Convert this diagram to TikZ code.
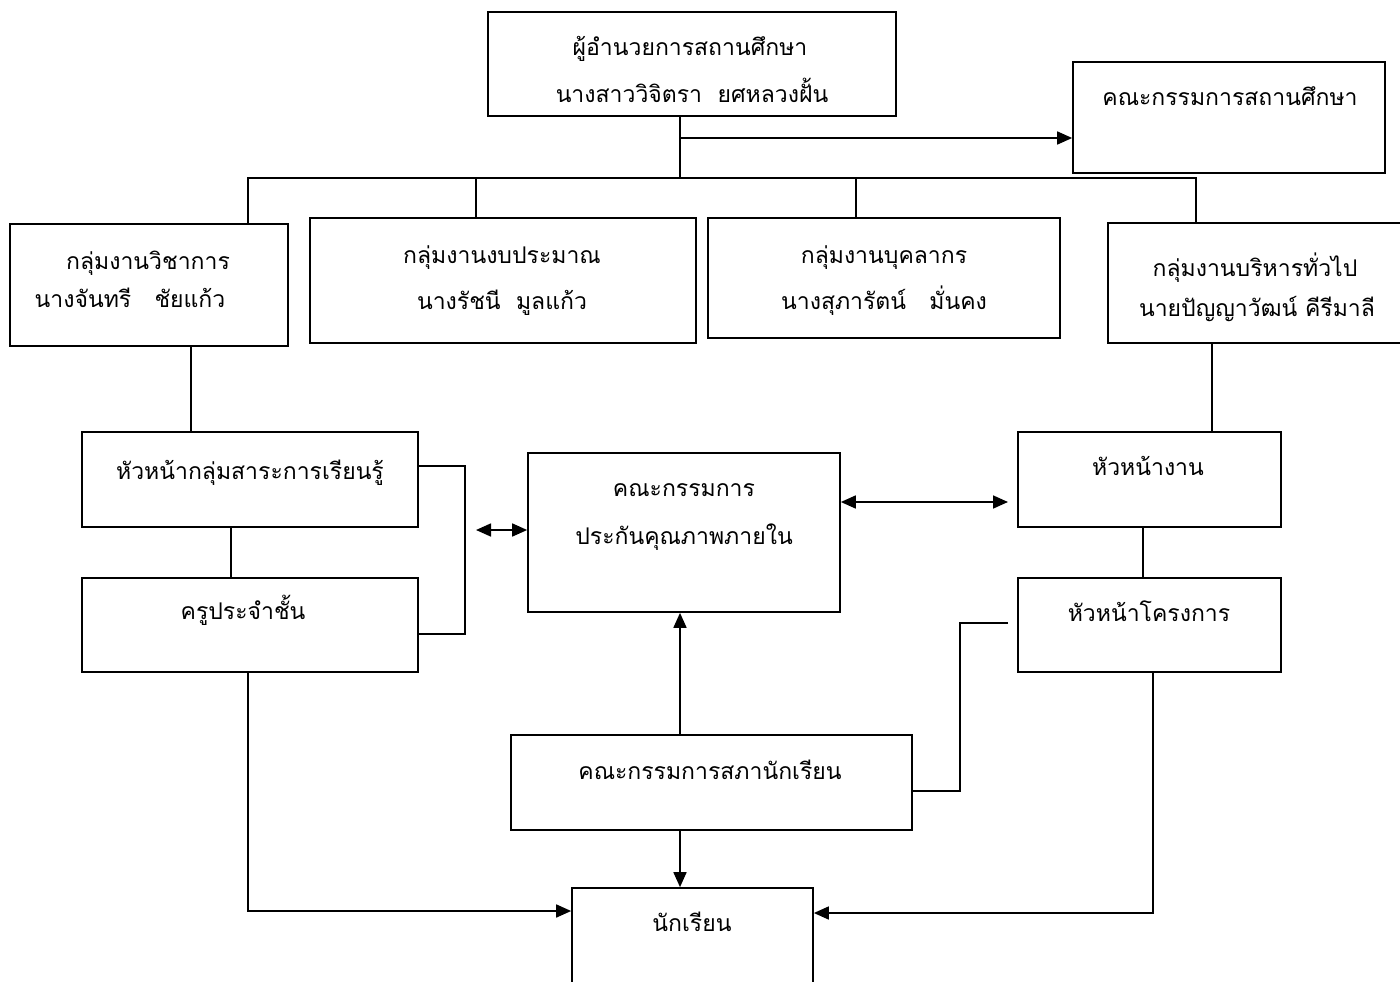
\documentclass[tikz,border=0pt]{standalone}
\usepackage{fontspec}
\setmainfont[Script=Thai]{Loma}
\usetikzlibrary{arrows.meta}
\tikzset{
  box/.style={draw, line width=1.7pt, rectangle, inner sep=0pt},
  txt/.style={anchor=base, inner sep=0pt, font=\fontsize{23}{26}\selectfont},
  wire/.style={line width=1.7pt},
  arr/.style={wire, -{Triangle[length=15pt,width=13pt]}},
  darr/.style={wire, {Triangle[length=15pt,width=13pt]}-{Triangle[length=15pt,width=13pt]}}
}
\begin{document}
\begin{tikzpicture}[x=1pt,y=-1pt]
\useasboundingbox (0,0) rectangle (1400,982);
\clip (0,0) rectangle (1400,982);
\fill[white] (0,0) rectangle (1400,982);
% boxes
\node[box, minimum width=408pt, minimum height=104pt] (dir) at (692,64) {};
\node[box, minimum width=312pt, minimum height=111pt] (com) at (1229,117.5) {};
\node[box, minimum width=278pt, minimum height=122pt] (g1) at (149,285) {};
\node[box, minimum width=386pt, minimum height=125pt] (g2) at (503,280.5) {};
\node[box, minimum width=352pt, minimum height=120pt] (g3) at (884,278) {};
\node[box, minimum width=302pt, minimum height=120pt] (g4) at (1259,283) {};
\node[box, minimum width=336pt, minimum height=95pt] (hk) at (250,479.5) {};
\node[box, minimum width=336pt, minimum height=94pt] (kr) at (250,625) {};
\node[box, minimum width=312pt, minimum height=159pt] (qa) at (684,532.5) {};
\node[box, minimum width=263pt, minimum height=95pt] (hn) at (1149.5,479.5) {};
\node[box, minimum width=263pt, minimum height=94pt] (hp) at (1149.5,625) {};
\node[box, minimum width=401pt, minimum height=95pt] (sc) at (711.5,782.5) {};
\node[box, minimum width=241pt, minimum height=112pt] (st) at (692.5,944) {};
% texts
\node[txt] (t1) at (690,56) {ผู้อำนวยการสถานศึกษา};
\node[txt] (t2) at (692,102) {นางสาววิจิตรา~~ยศหลวงฝั้น};
\node[txt] (t3) at (1230,106) {คณะกรรมการสถานศึกษา};
\node[txt] (t4) at (148,269) {กลุ่มงานวิชาการ};
\node[txt] (t5) at (130,307) {นางจันทรี~~~ชัยแก้ว};
\node[txt] (t6) at (502,263) {กลุ่มงานงบประมาณ};
\node[txt] (t7) at (502,309) {นางรัชนี~~มูลแก้ว};
\node[txt] (t8) at (884,263) {กลุ่มงานบุคลากร};
\node[txt] (t9) at (884,309) {นางสุภารัตน์~~~มั่นคง};
\node[txt] (t10) at (1255,276) {กลุ่มงานบริหารทั่วไป};
\node[txt] (t11) at (1257,316) {นายปัญญาวัฒน์ คีรีมาลี};
\node[txt] (t12) at (250,479) {หัวหน้ากลุ่มสาระการเรียนรู้};
\node[txt] (t13) at (243,619) {ครูประจำชั้น};
\node[txt] (t14) at (684,496) {คณะกรรมการ};
\node[txt] (t15) at (684,544) {ประกันคุณภาพภายใน};
\node[txt] (t16) at (1148,475) {หัวหน้างาน};
\node[txt] (t17) at (1149,621) {หัวหน้าโครงการ};
\node[txt] (t18) at (710,779) {คณะกรรมการสภานักเรียน};
\node[txt] (t19) at (692,931) {นักเรียน};
% coordinates
\coordinate (bus) at (680,178);
\coordinate (qaL) at (476,530);
\coordinate (qaR) at (1008,502);
\coordinate (hpL) at (1008,623);
% connectors
\draw[wire] (dir.south -| bus) -- (bus);
\draw[wire] (g1.north -| 248,0) -- (248,178) -- (1196,178) -- (g4.north -| 1196,0);
\draw[wire] (g2.north -| 476,0) -- (476,178);
\draw[wire] (g3.north -| 856,0) -- (856,178);
\draw[arr] (680,138) -- (com.west |- 0,138);
\draw[wire] (g1.south -| 191,0) -- (hk.north -| 191,0);
\draw[wire] (hk.south -| 231,0) -- (kr.north -| 231,0);
\draw[wire] (hk.east |- 0,466) -- (465,466) -- (465,634) -- (kr.east |- 0,634);
\draw[darr] (qaL) -- (qa.west |- qaL);
\draw[darr] (qa.east |- qaR) -- (qaR);
\draw[wire] (g4.south -| 1212,0) -- (hn.north -| 1212,0);
\draw[wire] (hn.south -| 1143,0) -- (hp.north -| 1143,0);
\draw[wire] (hpL) -- (960,623) -- (960,791) -- (sc.east |- 0,791);
\draw[arr] (hp.south -| 1153,0) |- (st.east |- 0,913);
\draw[arr] (kr.south -| 248,0) |- (st.west |- 0,911);
\draw[arr] (sc.north -| 680,0) -- (qa.south -| 680,0);
\draw[arr] (sc.south -| 680,0) -- (st.north -| 680,0);
\end{tikzpicture}
\end{document}
